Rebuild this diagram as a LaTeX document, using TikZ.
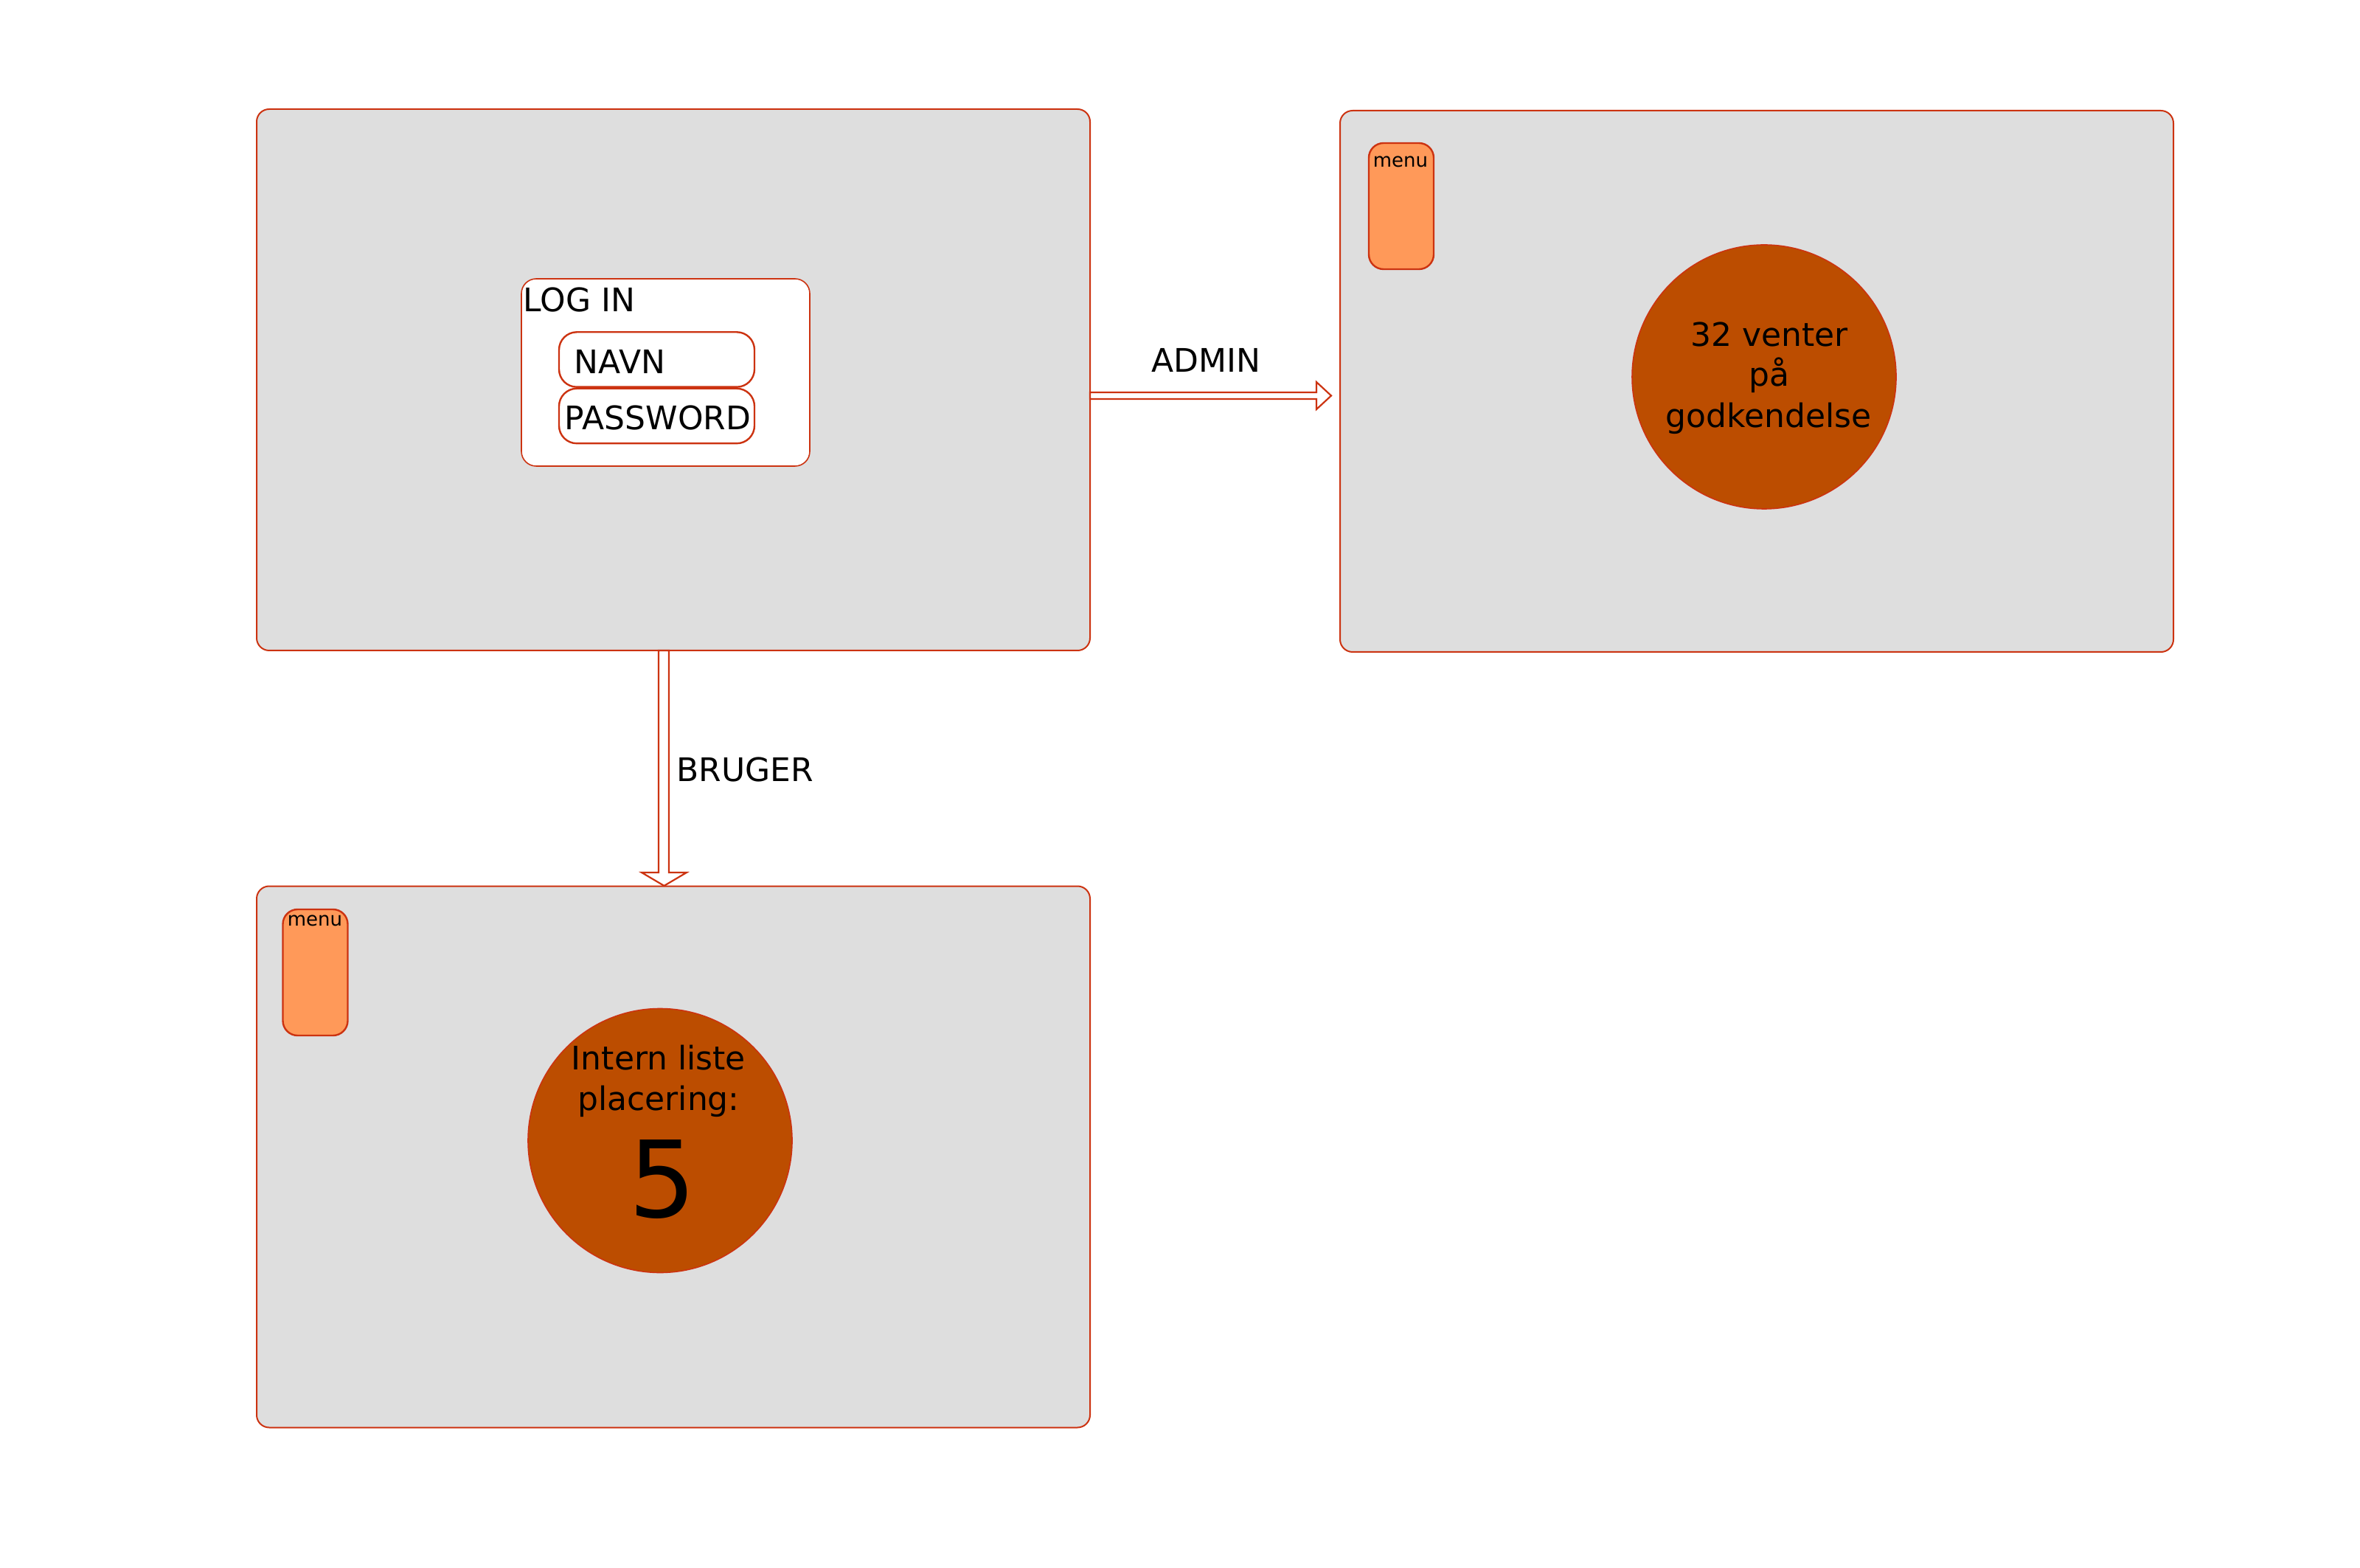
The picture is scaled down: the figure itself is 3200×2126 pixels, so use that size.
\documentclass[tikz,border=0pt]{standalone}
\usepackage{fontspec}
\setmainfont{DejaVu Sans}
\usetikzlibrary{calc}
\definecolor{bred}{RGB}{204,51,17}
\definecolor{bgray}{RGB}{222,222,222}
\definecolor{cbrown}{RGB}{188,77,0}
\definecolor{morange}{RGB}{255,153,89}
\begin{document}
\begin{tikzpicture}[x=0.25pt,y=-0.25pt,
  screen/.style={draw=bred, fill=bgray, line width=0.5pt, rounded corners=4.25pt, minimum width=282.5pt, minimum height=183.5pt, inner sep=0, outer sep=0},
  menubox/.style={draw=bred, fill=morange, line width=0.6pt, rounded corners=5pt, minimum width=22pt, minimum height=42.75pt, inner sep=0, outer sep=0},
  formbox/.style={draw=bred, fill=white, line width=0.4pt, rounded corners=5pt, minimum width=97.75pt, minimum height=63.5pt, inner sep=0, outer sep=0},
  field/.style={draw=bred, fill=white, line width=0.6pt, rounded corners=6pt, minimum width=66.25pt, minimum height=18.6pt, inner sep=0, outer sep=0},
  disc/.style={circle, draw=bred, fill=cbrown, line width=0.4pt, minimum size=89.5pt, inner sep=0, outer sep=0},
  txt/.style={font=\fontsize{11pt}{13.75pt}\selectfont, inner sep=0},
  smalltxt/.style={font=\fontsize{6.5pt}{8pt}\selectfont, inner sep=0},
  hollow/.style={draw=bred, fill=white, line width=0.55pt, line join=miter}]
\useasboundingbox (0,0) rectangle (3200,2126);

% screens
\node[screen] (login) at (913,515) {};
\node[screen] (adminscr) at (2382,517) {};
\node[screen] (userscr) at (913,1568.5) {};

% login form
\node[formbox] (form) at (902.5,505) {};
\node[txt, anchor=base west] (logintxt) at (709,423) {LOG IN};
\node[field] (navn) at (890.5,487.5) {};
\node[txt, anchor=base west] (navntxt) at (778,507) {NAVN};
\node[field] (pass) at (890.5,564) {};
\node[txt, anchor=base west] (passtxt) at (765,583) {PASSWORD};

% admin screen
\node[menubox] (menu1) at (1900,279.5) {};
\node[smalltxt, anchor=base] (menu1txt) at (1899,227) {menu};
\node[disc] (venter) at (2392,511) {};
\node[txt, anchor=base] (v1) at (2399,470) {32 venter};
\node[txt, anchor=base] (v2) at (2399,524) {på};
\node[txt, anchor=base] (v3) at (2398,580) {godkendelse};

% user screen
\node[menubox] (menu2) at (427.5,1318.5) {};
\node[smalltxt, anchor=base] (menu2txt) at (427,1255) {menu};
\node[disc] (plac) at (895,1546.5) {};
\node[txt, anchor=base] (p1) at (893,1450) {Intern liste};
\node[txt, anchor=base] (p2) at (893,1505) {placering:};
\node[font=\fontsize{36pt}{40pt}\selectfont, inner sep=0, anchor=base] (p3) at (898,1650) {5};

% ADMIN arrow
\coordinate (atip) at (1805,536.5);
\draw[hollow] ($(login.east)+(0,17)$) -- (1785,532) -- (1785,518) -- (atip) -- (1785,555) -- (1785,541) -- ($(login.east)+(0,26)$) -- cycle;
\node[txt, anchor=base] (admintxt) at (1635,505) {ADMIN};

% BRUGER arrow
\coordinate (btip) at (900.5,1201);
\draw[hollow] ($(login.south)+(-20,0)$) -- (893,1183) -- (870,1183) -- (btip) -- (931,1183) -- (907,1183) -- ($(login.south)+(-6,0)$) -- cycle;
\node[txt, anchor=base west] (brugertxt) at (917,1060) {BRUGER};
\end{tikzpicture}
\end{document}
